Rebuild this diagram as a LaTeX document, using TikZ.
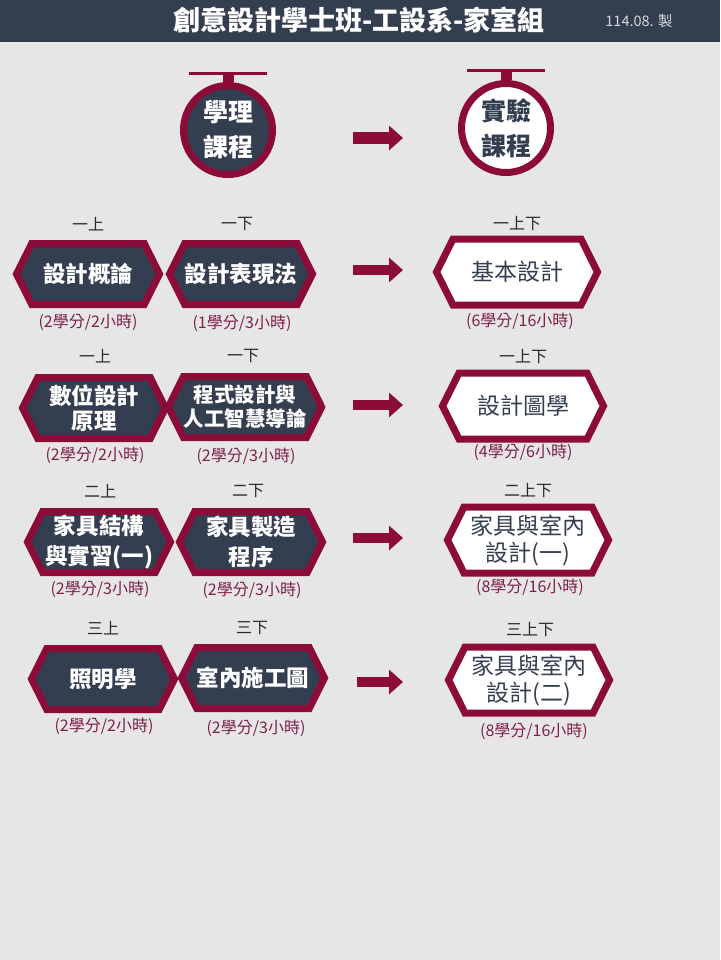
\documentclass[tikz,border=0pt]{standalone}
\usepackage{fontspec}
\setmainfont{Noto Sans CJK TC}
\usetikzlibrary{
    shapes.symbols,
    arrows.meta,
    positioning
}
\definecolor{bggrey}{RGB}{231,230,230}
\definecolor{slate}{RGB}{51,62,80}
\definecolor{wine}{RGB}{139,12,56}
\definecolor{credred}{RGB}{125,32,74}
\definecolor{semgrey}{RGB}{40,40,40}
\tikzset{hexdark/.style={shape=signal, signal to=west and east, signal pointer angle=127,
        draw=wine, line width=7pt, fill=slate, text=white, inner sep=0pt, align=center,
        minimum width=143pt, minimum height=61pt,
        font=\bfseries\fontsize{22.5}{25}\selectfont}}
\tikzset{hexlight/.style={hexdark, fill=white, text=slate, minimum width=161pt, minimum height=66pt,
        font=\fontsize{23}{27}\selectfont}}
\tikzset{sem/.style={text=semgrey, inner sep=0pt, font=\fontsize{16}{16}\selectfont}}
\tikzset{credit/.style={text=credred, inner sep=0pt, font=\fontsize{16}{16}\selectfont}}
\tikzset{bigarrow/.style={draw=wine, line width=10pt, -{Triangle[length=14pt,width=24pt]}}}
\tikzset{badge/.style={circle, draw=wine, line width=7pt, minimum size=89pt, inner sep=0pt, align=center,
        font=\bfseries\fontsize{25}{35}\selectfont}}

\begin{document}
\begin{tikzpicture}[x=1pt,y=-1pt]
    \useasboundingbox (0,0) rectangle (720,960);
    \fill[bggrey] (0,0) rectangle (720,960);
    \fill[slate] (0,0) rectangle (720,42);
    \node[text=white, font=\bfseries\fontsize{27}{27}\selectfont] (title) at (359,20) {創意設計學士班-工設系-家室組};
    \node[text=white!80!slate, font=\fontsize{14.5}{14.5}\selectfont] (date) at (639,21) {114.08. 製};

    % header badges
    \node[badge, fill=slate, text=white] (theory) at (228,130) {學理\\課程};
    \node[badge, fill=white, text=slate] (lab) at (506,128) {實驗\\課程};
    \draw[wine, line width=11pt] (theory.north) -- ++(0,-8) coordinate (tbar);
    \draw[wine, line width=3pt] ([xshift=-39pt]tbar) -- ([xshift=39pt]tbar);
    \draw[wine, line width=11pt] (lab.north) -- ++(0,-9) coordinate (lbar);
    \draw[wine, line width=3pt] ([xshift=-39pt]lbar) -- ([xshift=39pt]lbar);
    \coordinate (a0s) at (353,138);
    \coordinate (a0e) at (403,138);
    \draw[bigarrow, line width=12pt] (a0s) -- (a0e);

    % row 1
    \node[sem] (s1a) at (88,224) {一上};
    \node[sem] (s1b) at (237,224) {一下};
    \node[sem] (s1c) at (517,224) {一上下};
    \node[hexdark] (c1a) at (88,274) {設計概論};
    \node[hexdark] (c1b) at (241,274) {設計表現法};
    \node[hexlight] (c1c) at (517,272) {基本設計};
    \node[credit] (k1a) at (88,322) {(2學分/2小時)};
    \node[credit] (k1b) at (242,323) {(1學分/3小時)};
    \node[credit] (k1c) at (520,321) {(6學分/16小時)};
    \coordinate (a1s) at (353,270);
    \coordinate (a1e) at (403,270);
    \draw[bigarrow] (a1s) -- (a1e);

    % row 2
    \node[sem] (s2a) at (95,356) {一上};
    \node[sem] (s2b) at (243,356) {一下};
    \node[sem] (s2c) at (523,357) {一上下};
    \node[hexdark] (c2a) at (94,408) {數位設計\\原理};
    \node[hexdark, font=\bfseries\fontsize{20.5}{24}\selectfont] (c2b) at (245,407) {程式設計與\\人工智慧導論};
    \node[hexlight] (c2c) at (523,406) {設計圖學};
    \node[credit] (k2a) at (95,455) {(2學分/2小時)};
    \node[credit] (k2b) at (246,456) {(2學分/3小時)};
    \node[credit] (k2c) at (523,452) {(4學分/6小時)};
    \coordinate (a2s) at (353,405);
    \coordinate (a2e) at (403,405);
    \draw[bigarrow] (a2s) -- (a2e);

    % row 3
    \node[sem] (s3a) at (100,491) {二上};
    \node[sem] (s3b) at (248,491) {二下};
    \node[sem] (s3c) at (528,491) {二上下};
    \node[hexdark, font=\bfseries\fontsize{22.5}{30}\selectfont] (c3a) at (99,542) {家具結構\\與實習(一)};
    \node[hexdark, font=\bfseries\fontsize{22.5}{30}\selectfont] (c3b) at (251,542) {家具製造\\程序};
    \node[hexlight] (c3c) at (528,540) {家具與室內\\設計(一)};
    \node[credit] (k3a) at (100,589) {(2學分/3小時)};
    \node[credit] (k3b) at (252,590) {(2學分/3小時)};
    \node[credit] (k3c) at (530,587) {(8學分/16小時)};
    \coordinate (a3s) at (353,538);
    \coordinate (a3e) at (403,538);
    \draw[bigarrow] (a3s) -- (a3e);

    % row 4
    \node[sem] (s4a) at (103,628) {三上};
    \node[sem] (s4b) at (252,628) {三下};
    \node[sem] (s4c) at (530,630) {三上下};
    \node[hexdark] (c4a) at (103,679) {照明學};
    \node[hexdark] (c4b) at (253,678) {室內施工圖};
    \node[hexlight] (c4c) at (529,680) {家具與室內\\設計(二)};
    \node[credit] (k4a) at (104,726) {(2學分/2小時)};
    \node[credit] (k4b) at (256,728) {(2學分/3小時)};
    \node[credit] (k4c) at (534,731) {(8學分/16小時)};
    \coordinate (a4s) at (357,682);
    \coordinate (a4e) at (403,682);
    \draw[bigarrow] (a4s) -- (a4e);
\end{tikzpicture}
\end{document}
